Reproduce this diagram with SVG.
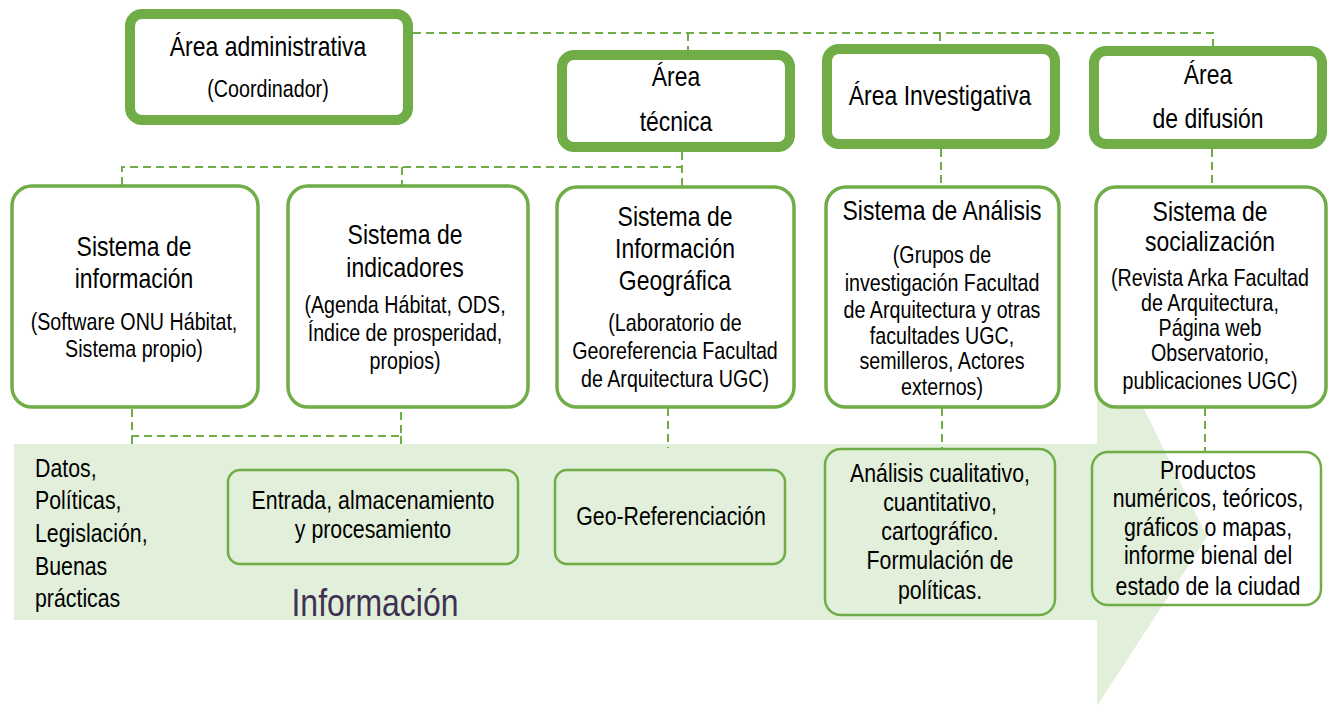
<svg xmlns="http://www.w3.org/2000/svg" width="1329" height="706" viewBox="0 0 1329 706">
<style>
text{font-family:"Liberation Sans",Arial,sans-serif;fill:#000;text-anchor:middle}
.t{font-size:28px}
.s{font-size:24px}
.b{font-size:26px}
.l{text-anchor:start}
.area{fill:#fff;stroke:#70AD47;stroke-width:10}
.sys{fill:#fff;stroke:#70AD47;stroke-width:3.5}
.out{fill:none;stroke:#70AD47;stroke-width:2.5}
.dash{fill:none;stroke:#70AD47;stroke-width:2;stroke-dasharray:8 5}
</style>
<rect width="1329" height="706" fill="#fff"/>
<g id="flow-arrow">
<polygon points="14,444 1097,444 1097,313 1207,537 1097,706 1097,620 14,620" fill="#E2EFDA"/>
</g>
<g id="connectors">
<polyline class="dash" points="413,33 1213,33 1213,46"/>
<line class="dash" x1="688" y1="33" x2="688" y2="50"/>
<line class="dash" x1="940" y1="33" x2="940" y2="45"/>
<polyline class="dash" points="122,185 122,167 682,167"/>
<line class="dash" x1="402" y1="167" x2="402" y2="185"/>
<line class="dash" x1="682" y1="152" x2="682" y2="186"/>
<line class="dash" x1="941" y1="149" x2="941" y2="186"/>
<line class="dash" x1="1212" y1="149" x2="1212" y2="186"/>
<polyline class="dash" points="132,409 132,436 401,436 401,409"/>
<line class="dash" x1="132" y1="436" x2="132" y2="446"/>
<line class="dash" x1="401" y1="436" x2="401" y2="446"/>
<line class="dash" x1="668" y1="408" x2="668" y2="448"/>
<line class="dash" x1="942" y1="408" x2="942" y2="448"/>
<line class="dash" x1="1205" y1="408" x2="1205" y2="451"/>
</g>
<g id="area-administrativa">
<rect class="area" x="130" y="14" width="278" height="106" rx="12"/>
<g transform="translate(268,0) scale(0.82,1)">
<text class="t" x="0" y="56">Área administrativa</text>
<text class="s" x="0" y="97">(Coordinador)</text>
</g>
</g>
<g id="area-tecnica">
<rect class="area" x="562" y="55" width="228" height="92" rx="12"/>
<g transform="translate(676,0) scale(0.82,1)">
<text class="t" x="0" y="86">Área</text>
<text class="t" x="0" y="131">técnica</text>
</g>
</g>
<g id="area-investigativa">
<rect class="area" x="827" y="49" width="228" height="95" rx="12"/>
<g transform="translate(940,0) scale(0.82,1)">
<text class="t" x="0" y="105">Área Investigativa</text>
</g>
</g>
<g id="area-difusion">
<rect class="area" x="1094" y="51" width="228" height="93" rx="12"/>
<g transform="translate(1208,0) scale(0.82,1)">
<text class="t" x="0" y="84">Área</text>
<text class="t" x="0" y="128">de difusión</text>
</g>
</g>
<g id="sistema-informacion">
<rect class="sys" x="12" y="186" width="246" height="221" rx="20"/>
<g transform="translate(134,0) scale(0.82,1)">
<text class="t" x="0" y="256">Sistema  de</text>
<text class="t" x="0" y="288">información</text>
<text class="s" x="0" y="330">(Software ONU Hábitat,</text>
<text class="s" x="0" y="357">Sistema propio)</text>
</g>
</g>
<g id="sistema-indicadores">
<rect class="sys" x="288" y="186" width="240" height="221" rx="20"/>
<g transform="translate(405,0) scale(0.82,1)">
<text class="t" x="0" y="244">Sistema  de</text>
<text class="t" x="0" y="277">indicadores</text>
<text class="s" x="0" y="313">(Agenda Hábitat, ODS,</text>
<text class="s" x="0" y="341">Índice de prosperidad,</text>
<text class="s" x="0" y="369">propios)</text>
</g>
</g>
<g id="sistema-geografica">
<rect class="sys" x="557" y="187" width="237" height="220" rx="20"/>
<g transform="translate(675,0) scale(0.82,1)">
<text class="t" x="0" y="226">Sistema  de</text>
<text class="t" x="0" y="258">Información</text>
<text class="t" x="0" y="290">Geográfica</text>
<text class="s" x="0" y="331">(Laboratorio de</text>
<text class="s" x="0" y="359">Georeferencia Facultad</text>
<text class="s" x="0" y="387">de Arquitectura UGC)</text>
</g>
</g>
<g id="sistema-analisis">
<rect class="sys" x="826" y="187" width="233" height="220" rx="20"/>
<g transform="translate(942,0) scale(0.82,1)">
<text class="t" x="0" y="220">Sistema  de Análisis</text>
<text class="s" x="0" y="263">(Grupos de</text>
<text class="s" x="0" y="291">investigación Facultad</text>
<text class="s" x="0" y="318">de Arquitectura y otras</text>
<text class="s" x="0" y="344">facultades UGC,</text>
<text class="s" x="0" y="369">semilleros, Actores</text>
<text class="s" x="0" y="395">externos)</text>
</g>
</g>
<g id="sistema-socializacion">
<rect class="sys" x="1096" y="187" width="230" height="220" rx="20"/>
<g transform="translate(1210,0) scale(0.82,1)">
<text class="t" x="0" y="221">Sistema  de</text>
<text class="t" x="0" y="251">socialización</text>
<text class="s" x="0" y="286">(Revista Arka Facultad</text>
<text class="s" x="0" y="311">de Arquitectura,</text>
<text class="s" x="0" y="336">Página web</text>
<text class="s" x="0" y="361">Observatorio,</text>
<text class="s" x="0" y="389">publicaciones UGC)</text>
</g>
</g>
<g id="entradas">
<g transform="translate(35,0) scale(0.82,1)">
<text class="b l" x="0" y="477">Datos,</text>
<text class="b l" x="0" y="509">Políticas,</text>
<text class="b l" x="0" y="542">Legislación,</text>
<text class="b l" x="0" y="575">Buenas</text>
<text class="b l" x="0" y="607">prácticas</text>
</g>
</g>
<g id="entrada-procesamiento">
<rect class="out" x="228" y="470" width="290" height="94" rx="12"/>
<g transform="translate(373,0) scale(0.82,1)">
<text class="b" x="0" y="509">Entrada,  almacenamiento</text>
<text class="b" x="0" y="538">y procesamiento</text>
</g>
</g>
<g id="geo-referenciacion">
<rect class="out" x="555" y="470" width="230" height="94" rx="12"/>
<g transform="translate(671,0) scale(0.82,1)">
<text class="b" x="0" y="525">Geo-Referenciación</text>
</g>
</g>
<g id="analisis-resultados">
<rect class="out" x="825" y="449" width="230" height="166" rx="16"/>
<g transform="translate(940,0) scale(0.82,1)">
<text class="b" x="0" y="482">Análisis cualitativo,</text>
<text class="b" x="0" y="511">cuantitativo,</text>
<text class="b" x="0" y="540">cartográfico.</text>
<text class="b" x="0" y="569">Formulación de</text>
<text class="b" x="0" y="599">políticas.</text>
</g>
</g>
<g id="productos">
<rect class="out" x="1092" y="452" width="229" height="153" rx="16"/>
<g transform="translate(1208,0) scale(0.82,1)">
<text class="b" x="0" y="479">Productos</text>
<text class="b" x="0" y="507">numéricos,  teóricos,</text>
<text class="b" x="0" y="536">gráficos  o mapas,</text>
<text class="b" x="0" y="564">informe  bienal del</text>
<text class="b" x="0" y="595">estado de la ciudad</text>
</g>
</g>
<g id="informacion-label">
<g transform="translate(375,0) scale(0.82,1)">
<text x="0" y="616" style="font-size:39px;fill:#403152">Información</text>
</g>
</g>
</svg>
